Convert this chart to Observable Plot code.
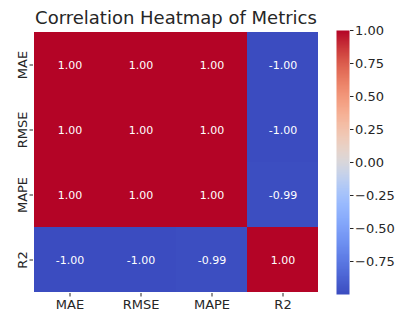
<!DOCTYPE html>
<html>
<head>
<meta charset="utf-8">
<script src="https://cdn.jsdelivr.net/npm/d3@7"></script>
<script src="https://cdn.jsdelivr.net/npm/@observablehq/plot@0.6"></script>
<style>
  html, body { margin: 0; padding: 0; background: #fff; }
  #wrap { position: relative; width: 410px; height: 320px; font-family: "DejaVu Sans", sans-serif; }
  #title { position: absolute; left: 34px; width: 284px; top: 9px; text-align: center; font-size: 18px; line-height: 1; color: #262626; white-space: nowrap; }
  #heat { position: absolute; left: 0; top: 0; }
  #cbar { position: absolute; left: 330px; top: 0; }
</style>
</head>
<body>
<div id="wrap">
  <div id="title">Correlation Heatmap of Metrics</div>
  <div id="heat"></div>
  <div id="cbar"></div>
</div>
<script>
const metrics = ["MAE", "RMSE", "MAPE", "R2"];
const rowMAE  = [1.00, 1.00, 1.00, -1.00];
const rowRMSE = [1.00, 1.00, 1.00, -1.00];
const rowMAPE = [1.00, 1.00, 1.00, -0.99];
const rowR2   = [-1.00, -1.00, -0.99, 1.00];
const colorbarTicks = [-0.75, -0.5, -0.25, 0, 0.25, 0.5, 0.75, 1.0];

// coolwarm colormap stops
const coolwarm = ["#3b4cc0", "#5470de", "#6f92f3", "#8db0fe", "#aac7fd", "#dddcdc",
                  "#f2cbb7", "#f7ac8e", "#ee8468", "#d65244", "#b40426"];
const interp = d3.interpolateRgbBasis(coolwarm);

const rows = [rowMAE, rowRMSE, rowMAPE, rowR2];
const cells = [];
rows.forEach((r, i) => r.forEach((v, j) => cells.push({row: metrics[i], col: metrics[j], value: v})));

const colorOpts = {type: "linear", domain: [-1, 1], interpolate: interp};
const fmtCell = v => d3.format(".2f")(v).replace("\u2212", "-");

const heat = Plot.plot({
  width: 330, height: 320,
  marginTop: 30, marginBottom: 27, marginLeft: 34, marginRight: 12,
  style: {fontFamily: "DejaVu Sans, sans-serif", fontSize: "13px", color: "#262626", background: "transparent"},
  x: {domain: metrics, padding: 0, label: null},
  y: {domain: metrics, padding: 0, label: null},
  color: colorOpts,
  marks: [
    Plot.cell(cells, {x: "col", y: "row", fill: "value", inset: 0}),
    Plot.text(cells, {x: "col", y: "row", text: d => fmtCell(d.value), fill: "white", fontSize: 11}),
    Plot.axisX({tickSize: 3.5, tickPadding: 3, label: null, fontSize: 13}),
    Plot.axisY({tickSize: 3.5, tickPadding: 3, tickRotate: -90, label: null, fontSize: 13, textAnchor: "middle", dx: -1})
  ]
});
document.getElementById("heat").appendChild(heat);

const cbar = Plot.plot({
  width: 80, height: 320,
  marginTop: 30, marginBottom: 26, marginLeft: 6, marginRight: 61,
  style: {fontFamily: "DejaVu Sans, sans-serif", fontSize: "13px", color: "#262626", background: "transparent"},
  x: {domain: [0, 1], axis: null},
  y: {domain: [-1, 1], axis: null},
  color: colorOpts,
  marks: [
    Plot.raster({x1: 0, x2: 1, y1: -1, y2: 1, width: 1, height: 300, fill: (x, y) => y, imageRendering: "auto"}),
    Plot.axisY({anchor: "right", ticks: colorbarTicks, tickFormat: d3.format(".2f"), tickSize: 3.5, tickPadding: 2, label: null, fontSize: 13})
  ]
});
document.getElementById("cbar").appendChild(cbar);
</script>
</body>
</html>
